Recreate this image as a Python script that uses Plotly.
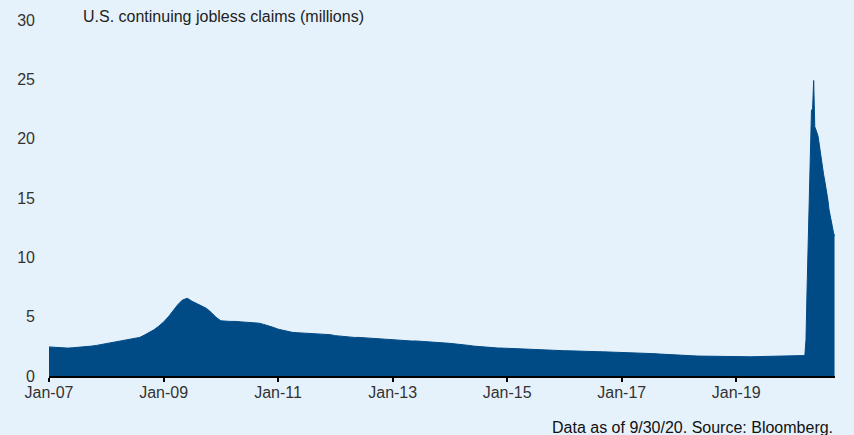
import plotly.graph_objects as go

# Monthly values Jan-2007 .. Feb-2020 (millions)
monthly_start = "2007-01-01"
monthly_values = [
    2.45, 2.42, 2.38, 2.35, 2.35, 2.38, 2.40, 2.45, 2.48, 2.52, 2.58, 2.65,   # 2007
    2.72, 2.78, 2.85, 2.92, 2.98, 3.05, 3.12, 3.25, 3.45, 3.65, 3.90, 4.20,   # 2008
    4.55, 5.00, 5.50, 6.00, 6.40, 6.55, 6.30, 6.10, 5.95, 5.70, 5.35, 4.95,   # 2009
    4.65, 4.60, 4.60, 4.60, 4.58, 4.55, 4.55, 4.50, 4.45, 4.35, 4.25, 4.10,   # 2010
    3.95, 3.85, 3.75, 3.68, 3.65, 3.62, 3.60, 3.58, 3.58, 3.55, 3.52, 3.48,   # 2011
    3.40, 3.35, 3.30, 3.28, 3.25, 3.25, 3.22, 3.22, 3.20, 3.18, 3.15, 3.10,   # 2012
    3.05, 3.00, 2.98, 2.95, 2.95, 2.95, 2.93, 2.92, 2.88, 2.85, 2.80, 2.78,   # 2013
    2.75, 2.72, 2.68, 2.62, 2.58, 2.52, 2.48, 2.45, 2.42, 2.38, 2.36, 2.35,   # 2014
    2.33, 2.30, 2.28, 2.25, 2.24, 2.23, 2.22, 2.21, 2.20, 2.18, 2.17, 2.15,   # 2015
    2.13, 2.12, 2.10, 2.09, 2.08, 2.07, 2.06, 2.05, 2.04, 2.03, 2.02, 2.01,   # 2016
    2.00, 1.98, 1.96, 1.95, 1.93, 1.92, 1.90, 1.88, 1.85, 1.82, 1.80, 1.78,   # 2017
    1.76, 1.74, 1.72, 1.70, 1.68, 1.67, 1.66, 1.65, 1.64, 1.63, 1.63, 1.62,   # 2018
    1.62, 1.63, 1.64, 1.62, 1.63, 1.64, 1.65, 1.64, 1.63, 1.64, 1.66, 1.67,   # 2019
    1.70, 1.68,                                                               # 2020 Jan-Feb
]

# Weekly values 2020 (millions)
weekly_dates = [
    "2020-03-07", "2020-03-14", "2020-03-21", "2020-03-28", "2020-04-04",
    "2020-04-11", "2020-04-18", "2020-04-25", "2020-05-02", "2020-05-09",
    "2020-05-16", "2020-05-23", "2020-05-30", "2020-06-06", "2020-06-13",
    "2020-06-20", "2020-06-27", "2020-07-04", "2020-07-11", "2020-07-18",
    "2020-07-25", "2020-08-01", "2020-08-08", "2020-08-15", "2020-08-22",
    "2020-08-29", "2020-09-05", "2020-09-12", "2020-09-19",
]
weekly_values = [
    1.72, 1.78, 3.06, 7.40, 11.9,
    15.8, 18.0, 22.4, 22.5, 24.9,
    21.0, 20.8, 20.5, 20.2, 19.5,
    19.2, 18.3, 17.6, 17.0, 16.5,
    16.0, 15.5, 14.8, 14.0, 13.4,
    13.0, 12.6, 12.1, 11.8,
]

x_tick_vals = ["2007-01-01", "2009-01-01", "2011-01-01", "2013-01-01",
               "2015-01-01", "2017-01-01", "2019-01-01"]
x_tick_text = ["Jan-07", "Jan-09", "Jan-11", "Jan-13", "Jan-15", "Jan-17", "Jan-19"]
y_tick_vals = [0, 5, 10, 15, 20, 25, 30]

title_text = "U.S. continuing jobless claims (millions)"
source_text = "Data as of 9/30/20. Source: Bloomberg."

# build dates for monthly part
monthly_dates = []
y0, m0 = 2007, 1
for i in range(len(monthly_values)):
    yy = y0 + (m0 - 1 + i) // 12
    mm = (m0 - 1 + i) % 12 + 1
    monthly_dates.append(f"{yy:04d}-{mm:02d}-01")

dates = monthly_dates + weekly_dates
values = monthly_values + weekly_values

BG = "#e6f2fb"
FILL = "#004a86"
FONT = "Liberation Sans, Arial, sans-serif"

fig = go.Figure()
fig.add_trace(go.Scatter(
    x=dates, y=values, mode="lines", fill="tozeroy",
    line=dict(color=FILL, width=1, shape="linear"),
    fillcolor=FILL, hoverinfo="skip", showlegend=False,
))

fig.update_layout(
    width=854, height=435,
    margin=dict(l=49, r=19, t=18, b=59),
    paper_bgcolor=BG, plot_bgcolor=BG,
    font=dict(family=FONT, size=16, color="#333333"),
    xaxis=dict(
        type="date", range=["2007-01-01", "2020-09-22"],
        tickvals=x_tick_vals, ticktext=x_tick_text,
        showgrid=False, zeroline=False,
        showline=True, linecolor="#000000", linewidth=2,
        ticks="outside", ticklen=4, tickwidth=2, tickcolor="#000000",
        ticklabelstandoff=-3,
        tickfont=dict(size=16, color="#333333"),
    ),
    yaxis=dict(
        range=[0, 30], tickvals=y_tick_vals,
        showgrid=False, zeroline=False, showline=False,
        ticks="", ticklabelstandoff=13,
        tickfont=dict(size=16, color="#333333"),
    ),
    annotations=[
        dict(text=title_text, xref="paper", yref="paper", x=0.041, y=1.01,
             xanchor="left", yanchor="middle", showarrow=False,
             font=dict(size=16, color="#222222")),
        dict(text=source_text, xref="paper", yref="paper", x=1.0, y=-0.145,
             xanchor="right", yanchor="middle", showarrow=False,
             font=dict(size=16, color="#111111")),
    ],
)

fig.write_html(
    "out.html",
    config={"displayModeBar": False},
    post_script="document.body.style.margin='0';document.body.style.background='#e6f2fb';",
)
